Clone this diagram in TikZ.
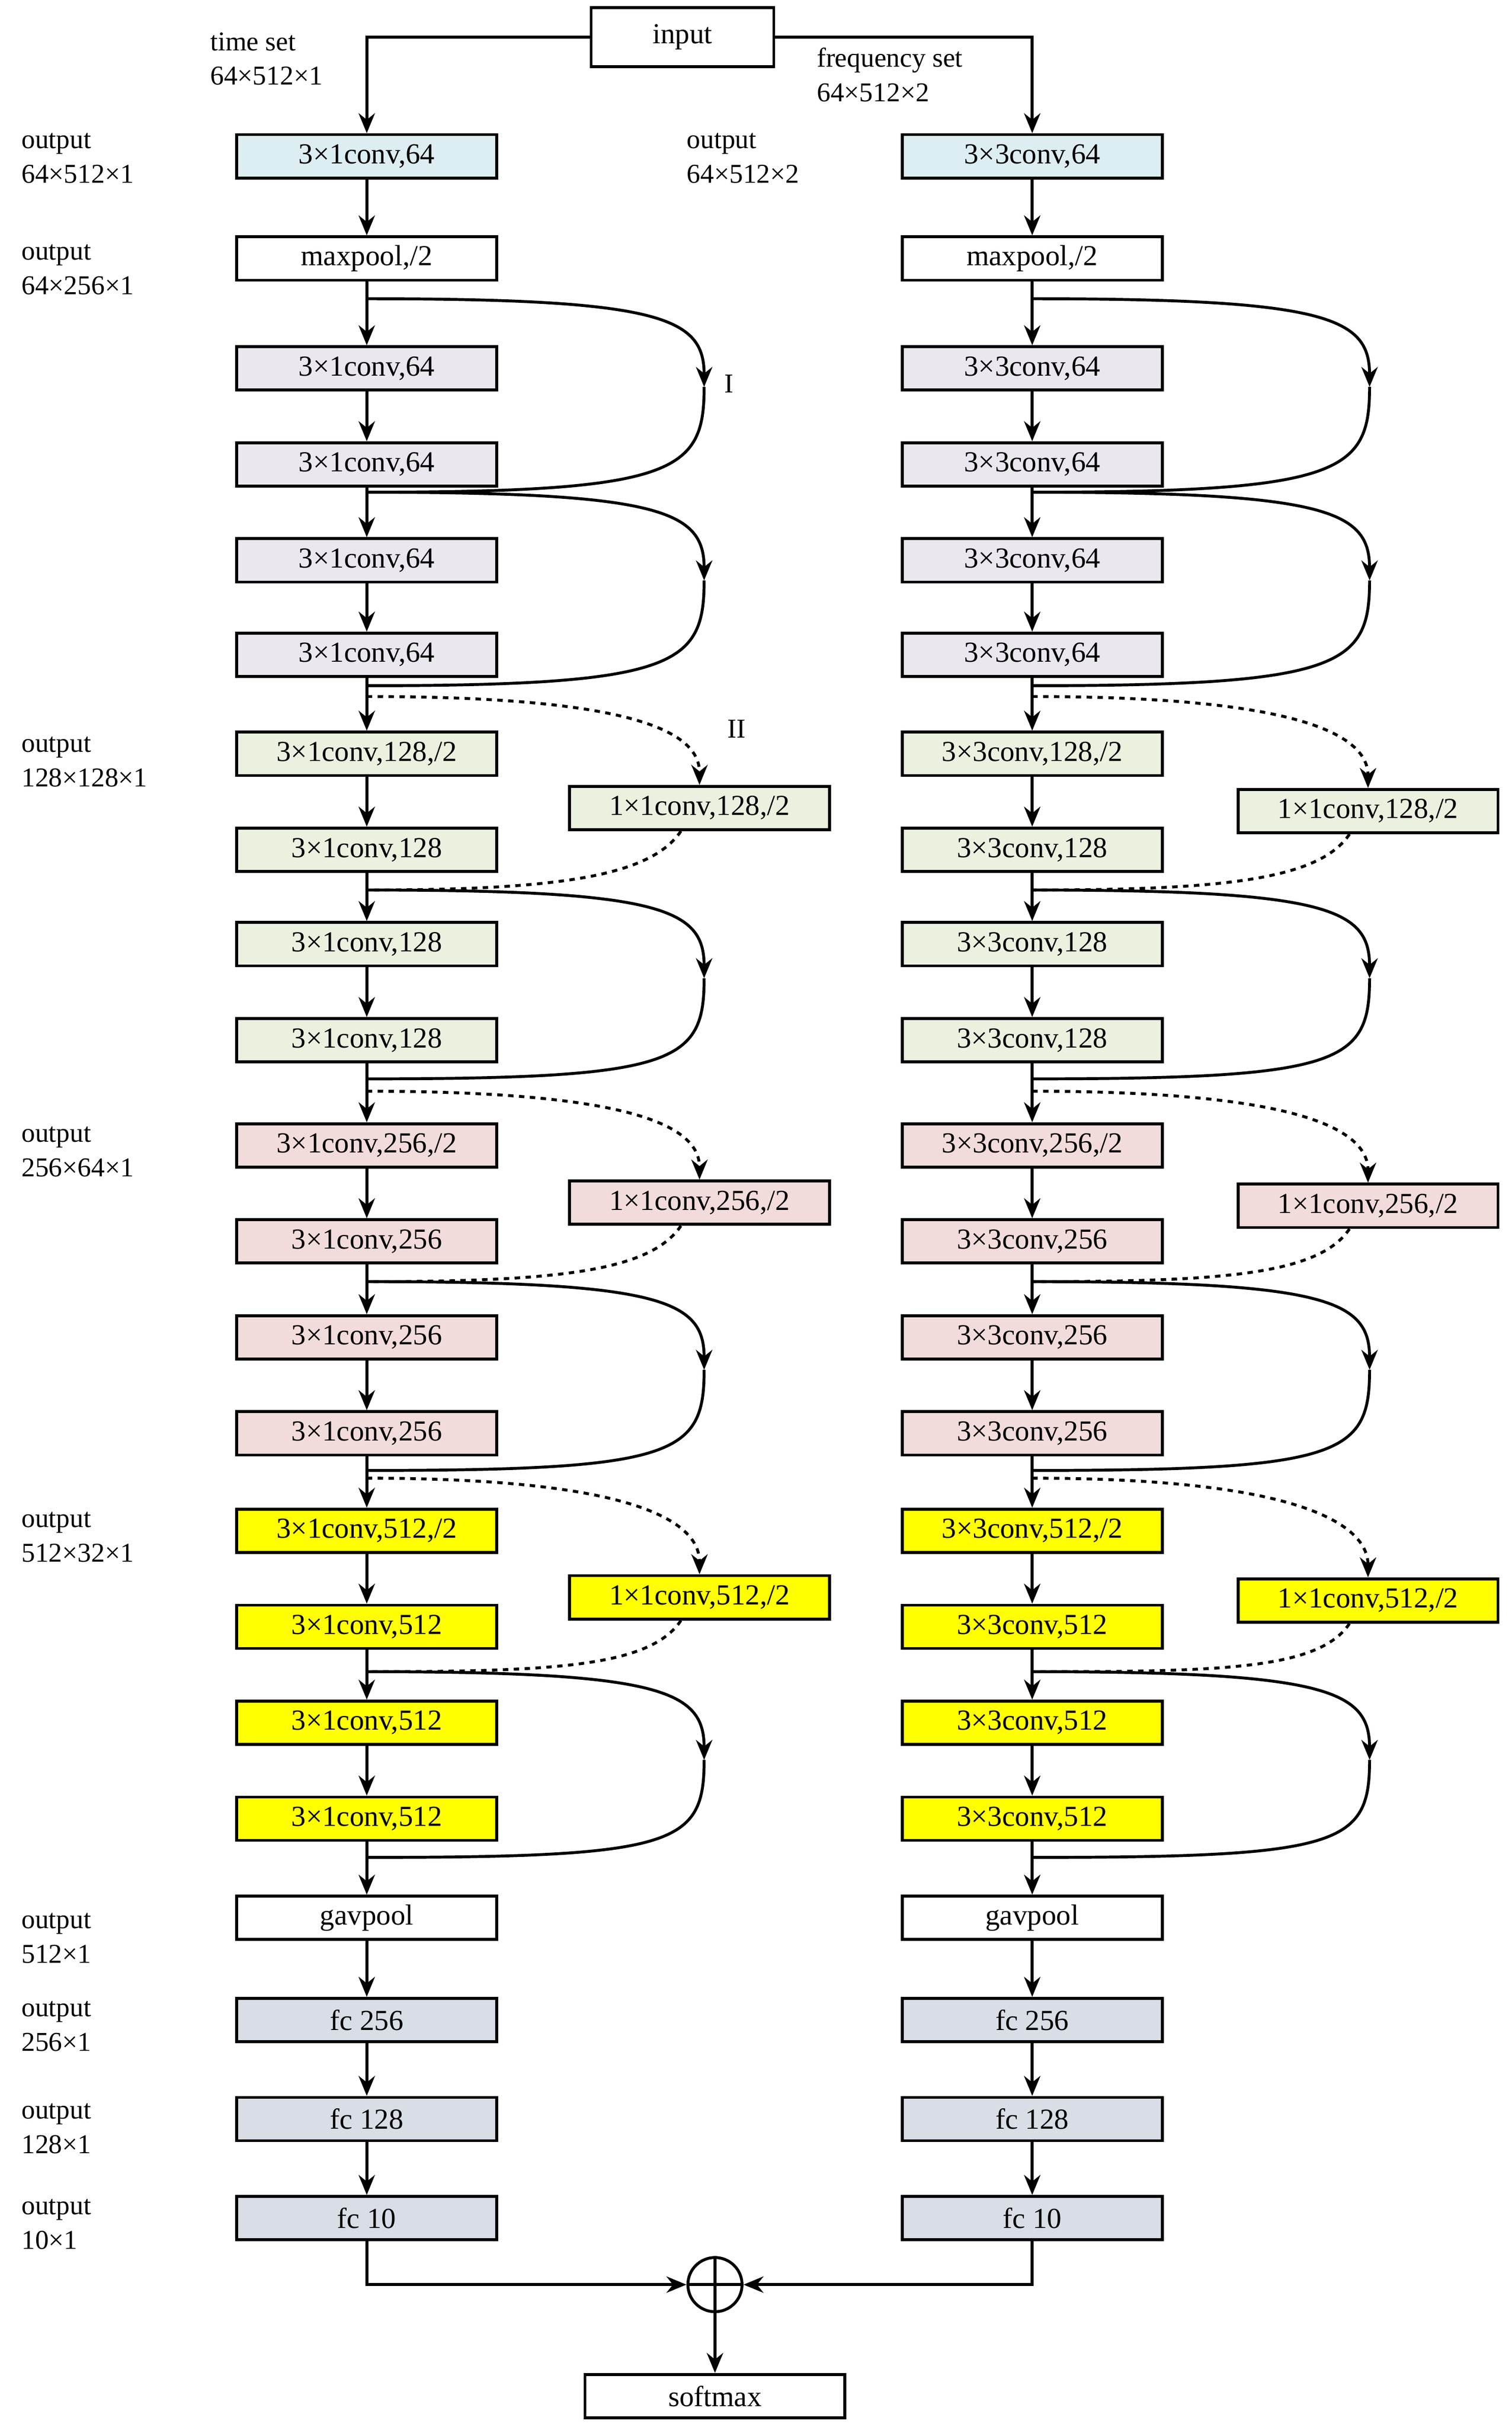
\documentclass[tikz,border=0pt]{standalone}
\usepackage{fontspec}
\setmainfont{Liberation Serif}
\usetikzlibrary{arrows.meta}
\definecolor{cb}{HTML}{DDEEF3}
\definecolor{cl}{HTML}{EAE7EF}
\definecolor{cg}{HTML}{EBF1DF}
\definecolor{cp}{HTML}{F2DCDB}
\definecolor{cy}{HTML}{FFFF00}
\definecolor{cf}{HTML}{D9DDE6}
\begin{document}
\begin{tikzpicture}[x=0.03cm,y=-0.03cm,line width=1.6pt,
  box/.style={draw,minimum width=5.04cm,minimum height=0.84cm,inner sep=0pt,font=\fontsize{16}{18}\selectfont},
  lab/.style={align=left,anchor=north west,inner sep=0pt,font=\fontsize{15}{19}\selectfont},
  arr/.style={-{Stealth[length=11pt,width=9pt]}}]
\useasboundingbox (0,0) rectangle (977,1568);
\node[draw,minimum width=3.54cm,minimum height=1.14cm,font=\fontsize{16}{18}\selectfont] (in) at (441,24) {input};
\foreach \n/\y/\a/\b/\c in {
 r1/101/{3×1conv,64}/{3×3conv,64}/cb,
 r2/167/{maxpool,/2}/{maxpool,/2}/white,
 r3/238/{3×1conv,64}/{3×3conv,64}/cl,
 r4/300/{3×1conv,64}/{3×3conv,64}/cl,
 r5/362/{3×1conv,64}/{3×3conv,64}/cl,
 r6/423/{3×1conv,64}/{3×3conv,64}/cl,
 r7/487/{3×1conv,128,/2}/{3×3conv,128,/2}/cg,
 r8/549/{3×1conv,128}/{3×3conv,128}/cg,
 r9/610/{3×1conv,128}/{3×3conv,128}/cg,
 r10/672/{3×1conv,128}/{3×3conv,128}/cg,
 r11/740/{3×1conv,256,/2}/{3×3conv,256,/2}/cp,
 r12/802/{3×1conv,256}/{3×3conv,256}/cp,
 r13/864/{3×1conv,256}/{3×3conv,256}/cp,
 r14/926/{3×1conv,256}/{3×3conv,256}/cp,
 r15/989/{3×1conv,512,/2}/{3×3conv,512,/2}/cy,
 r16/1051/{3×1conv,512}/{3×3conv,512}/cy,
 r17/1113/{3×1conv,512}/{3×3conv,512}/cy,
 r18/1175/{3×1conv,512}/{3×3conv,512}/cy,
 r19/1239/{gavpool}/{gavpool}/white,
 r20/1305/{fc 256}/{fc 256}/cf,
 r21/1369/{fc 128}/{fc 128}/cf,
 r22/1433/{fc 10}/{fc 10}/cf}{
 \node[box,fill=\c] (L\n) at (237,\y) {\a};
 \node[box,fill=\c] (R\n) at (667,\y) {\b};
}
\foreach \i [evaluate=\i as \j using int(\i+1)] in {1,...,21}{
 \draw[arr] (Lr\i) -- (Lr\j);
 \draw[arr] (Rr\i) -- (Rr\j);
}
\draw[arr] (in.west) -| (Lr1.north);
\draw[arr] (in.east) -| (Rr1.north);
% side boxes
\foreach \n/\y/\t/\c in {s1/522/{1×1conv,128,/2}/cg, s2/777/{1×1conv,256,/2}/cp, s3/1032/{1×1conv,512,/2}/cy}{
 \node[box,fill=\c] (L\n) at (452,\y) {\t};
 \node[box,fill=\c] (R\n) at (884,\y+2) {\t};
}
% skips
\foreach \s/\dx in {L/0,R/430}{
 \foreach \k/\ya/\yb in {a/193/318,b/318/443,c/575/697,d/828/950,e/1080/1200}{
  \coordinate (\s\k1) at (237+\dx,\ya);
  \coordinate (\s\k2) at (237+\dx,\yb);
  \coordinate (\s\k p) at (455+\dx,\ya+57);
  \draw[arr] (\s\k1) .. controls +(190,0) and +(0,-45) .. (\s\k p);
  \draw (\s\k p) .. controls +(0,55) and +(200,0) .. (\s\k2);
 }
 \foreach \k/\ya/\yb/\m in {f/450/575/s1,g/705/828/s2,h/955/1080/s3}{
  \coordinate (\s\k1) at (237+\dx,\ya);
  \coordinate (\s\k2) at (237+\dx,\yb);
  \coordinate (\s\k q) at ([xshift=-0.36cm]\s\m.south);
  \draw[arr,dashed] (\s\k1) .. controls +(170,0) and +(0,-35) .. (\s\m.north);
  \draw[dashed] (\s\k q) .. controls +(-20,30) and +(120,0) .. (\s\k2);
 }
}
\node[circle,draw,minimum size=1.05cm,inner sep=0pt] (op) at (462,1476) {};
\draw (op.north) -- (op.south) (op.west) -- (op.east);
\draw[arr] (Lr22.south) |- (op.west);
\draw[arr] (Rr22.south) |- (op.east);
\node[box,minimum width=5.04cm] (sm) at (462,1548) {softmax};
\draw[arr] (op) -- (sm);
% labels
\node[lab] (t1) at (135,20) {time set\\64×512×1};
\node[lab] (t2) at (527,30) {frequency set\\64×512×2};
\node[lab] (t3) at (443,85) {output\\64×512×2};
\foreach \y/\t [count=\i] in {85/64×512×1,157/64×256×1,475/128×128×1,727/256×64×1,976/512×32×1,1235/512×1,1292/256×1,1358/128×1,1420/10×1}{
 \node[lab] (o\i) at (13,\y) {output\\\t};
}
\node[font=\fontsize{15}{18}\selectfont] (I) at (471,248) {I};
\node[font=\fontsize{15}{18}\selectfont] (II) at (476,471) {II};
\end{tikzpicture}
\end{document}
